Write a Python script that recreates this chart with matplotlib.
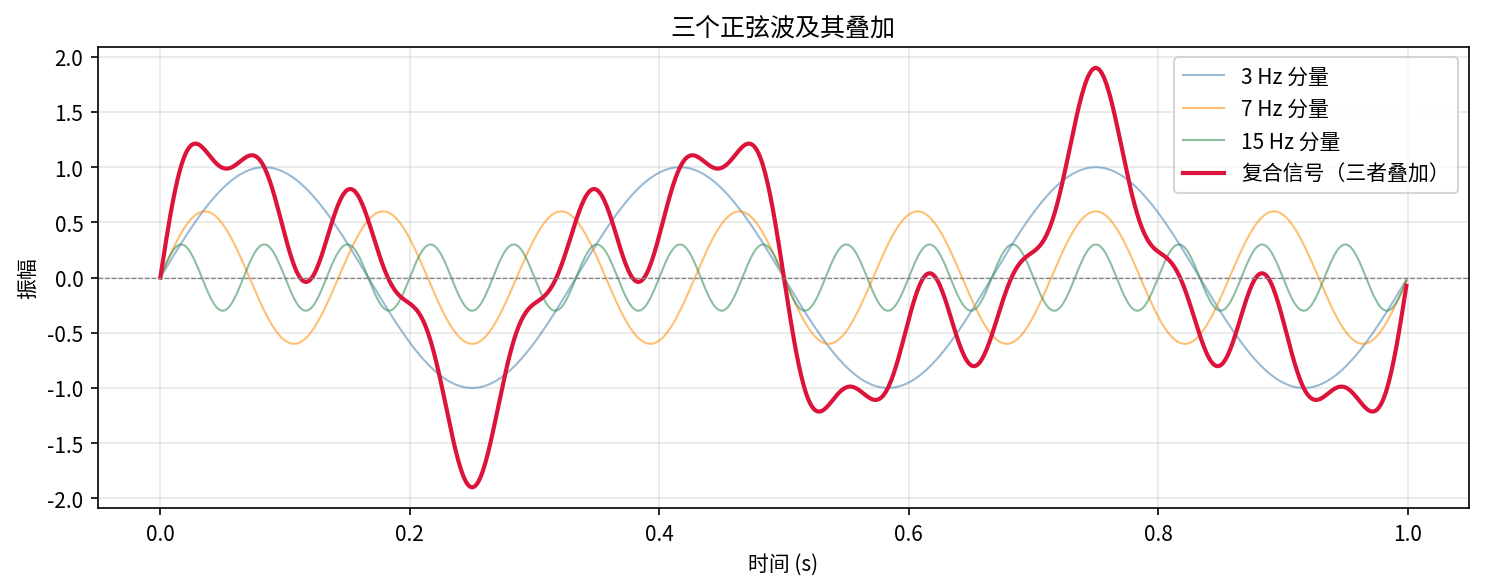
import numpy as np
import matplotlib
matplotlib.use("Agg")
from matplotlib import pyplot as plt

# components: frequency (Hz), amplitude
FREQS = [3, 7, 15]
AMPS = [1.0, 0.6, 0.3]
LABELS = ["3 Hz 分量", "7 Hz 分量", "15 Hz 分量"]
COLORS = ["steelblue", "darkorange", "seagreen"]
SUM_LABEL = "复合信号（三者叠加）"
N_SAMPLES = 1000

plt.rcParams["font.family"] = ["Noto Sans CJK SC", "DejaVu Sans"]
plt.rcParams["axes.unicode_minus"] = False

t = np.linspace(0, 1, N_SAMPLES, endpoint=False)
waves = [a * np.sin(2 * np.pi * f * t) for f, a in zip(FREQS, AMPS)]
composite = np.sum(waves, axis=0)

fig, ax = plt.subplots(figsize=(9.9, 3.893), dpi=150)
for w, lab, c in zip(waves, LABELS, COLORS):
    ax.plot(t, w, color=c, lw=1.0, alpha=0.55, label=lab)
ax.plot(t, composite, color="crimson", lw=2.0, label=SUM_LABEL)
ax.axhline(0, color="gray", ls="--", lw=0.6)

ax.set_title("三个正弦波及其叠加", fontsize=12)
ax.set_xlabel("时间 (s)")
ax.set_ylabel("振幅")
ax.grid(True, alpha=0.3)
ax.legend(loc="upper right")

fig.subplots_adjust(left=0.066, right=0.989, top=0.918, bottom=0.128)
fig.savefig("out.png", dpi=150)
